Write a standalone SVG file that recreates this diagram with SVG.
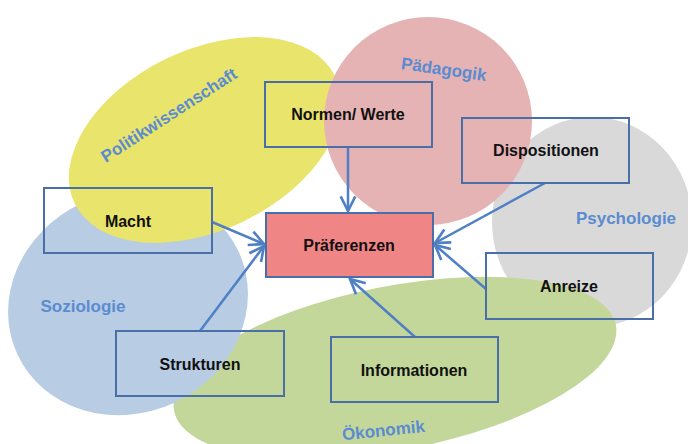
<svg xmlns="http://www.w3.org/2000/svg" width="688" height="444" viewBox="0 0 688 444">
<defs>
<style>
.box{fill:none;stroke:#4a6ea8;stroke-width:2}
.bt{font-family:"Liberation Sans",Arial,sans-serif;font-weight:bold;font-size:16px;fill:#111;text-anchor:middle}
.lab{font-family:"Liberation Sans",Arial,sans-serif;font-weight:bold;font-size:17px;fill:#5b8bd0;text-anchor:middle}
.conn{stroke:#4f7fc4;stroke-width:2.5;fill:none;marker-end:url(#arr)}
</style>
<marker id="arr" viewBox="0 0 12 12" refX="11" refY="6" markerWidth="7" markerHeight="7" markerUnits="strokeWidth" orient="auto">
<path d="M1,1 L11,6 L1,11" fill="none" stroke="#4f7fc4" stroke-width="1.8"/>
</marker>
</defs>
<rect width="688" height="444" fill="#fff"/>
<g id="areas">
<ellipse cx="592" cy="222" rx="100" ry="105" fill="#d9d9d9"/>
<ellipse cx="395" cy="368" rx="225" ry="82" transform="rotate(-11 395 368)" fill="#c4d79b"/>
<ellipse cx="128" cy="303" rx="122" ry="110" transform="rotate(-25 128 303)" fill="#b8cce4"/>
<ellipse cx="205" cy="140" rx="145" ry="90" transform="rotate(-26 205 140)" fill="#e8e46c"/>
<circle cx="428" cy="121" r="104" fill="#e6b3b4"/>
</g>
<g id="labels">
<text class="lab" transform="translate(172,120) rotate(-33)">Politikwissenschaft</text>
<text class="lab" transform="translate(443,75) rotate(8)">Pädagogik</text>
<text class="lab" x="626" y="224">Psychologie</text>
<text class="lab" x="83" y="312">Soziologie</text>
<text class="lab" transform="translate(384,436) rotate(-6)">Ökonomik</text>
</g>
<g id="connectors">
<line class="conn" x1="348" y1="147" x2="348" y2="211"/>
<line class="conn" x1="545" y1="183" x2="435" y2="243"/>
<line class="conn" x1="212" y1="222" x2="264" y2="244"/>
<line class="conn" x1="200" y1="331" x2="264" y2="246"/>
<line class="conn" x1="486" y1="289" x2="435" y2="245"/>
<line class="conn" x1="415" y1="337" x2="350" y2="279"/>
</g>
<g id="praeferenzen">
<rect x="266" y="213" width="167" height="64" fill="#ef8585" stroke="#4a6ea8" stroke-width="2"/>
<text class="bt" x="349" y="251">Präferenzen</text>
</g>
<g id="normen">
<rect class="box" x="265" y="82" width="167" height="65"/>
<text class="bt" x="348" y="120">Normen/ Werte</text>
</g>
<g id="dispositionen">
<rect class="box" x="462" y="118" width="167" height="65"/>
<text class="bt" x="546" y="156">Dispositionen</text>
</g>
<g id="macht">
<rect class="box" x="44" y="188" width="168" height="65"/>
<text class="bt" x="128" y="227">Macht</text>
</g>
<g id="anreize">
<rect class="box" x="486" y="253" width="167" height="66"/>
<text class="bt" x="569" y="292">Anreize</text>
</g>
<g id="strukturen">
<rect class="box" x="116" y="331" width="168" height="65"/>
<text class="bt" x="200" y="370">Strukturen</text>
</g>
<g id="informationen">
<rect class="box" x="331" y="337" width="167" height="65"/>
<text class="bt" x="414" y="376">Informationen</text>
</g>
</svg>
